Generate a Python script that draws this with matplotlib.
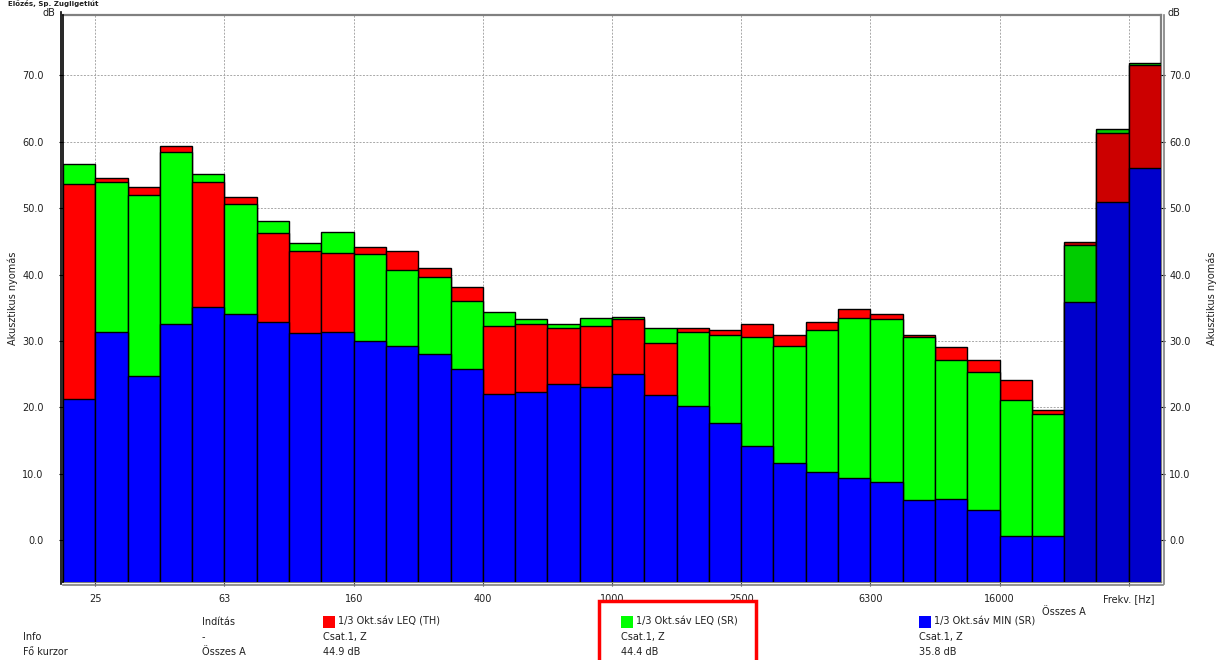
import matplotlib
matplotlib.use("Agg")
import matplotlib.pyplot as plt
from matplotlib.lines import Line2D
from matplotlib.patches import Rectangle

plt.rcParams['font.family'] = ['DejaVu Sans']

bands = ["20", "25", "31.5", "40", "50", "63", "80", "100", "125", "160", "200", "250",
         "315", "400", "500", "630", "800", "1000", "1250", "1600", "2000", "2500",
         "3150", "4000", "5000", "6300", "8000", "10000", "12500", "16000", "20000",
         "Összes A", "Összes C", "Összes Z"]

leq_th = [53.7, 54.6, 53.2, 59.3, 53.9, 51.7, 46.2, 43.5, 43.3, 44.1, 43.5, 41.0,
          38.1, 32.3, 32.5, 31.9, 32.3, 33.3, 29.7, 32.0, 31.6, 32.6, 30.9, 32.8,
          34.8, 34.0, 30.9, 29.1, 27.2, 24.1, 19.6, 44.9, 61.4, 71.5]
leq_sr = [56.6, 53.9, 52.0, 58.4, 55.1, 50.6, 48.0, 44.8, 46.4, 43.1, 40.7, 39.6,
          36.0, 34.4, 33.3, 32.6, 33.4, 33.6, 32.0, 31.3, 30.9, 30.6, 29.3, 31.6,
          33.4, 33.3, 30.6, 27.1, 25.3, 21.1, 19.0, 44.4, 61.9, 71.9]
min_sr = [21.3, 31.3, 24.8, 32.5, 35.1, 34.0, 32.9, 31.2, 31.3, 30.0, 29.2, 28.0,
          25.8, 22.0, 22.3, 23.5, 23.0, 25.1, 21.9, 20.2, 17.6, 14.2, 11.6, 10.2,
          9.3, 8.7, 6.0, 6.2, 4.5, 0.6, 0.6, 35.8, 50.9, 56.0]

tick_labels = ["25", "63", "160", "400", "1000", "2500", "6300", "16000", "Frekv. [Hz]"]
y_ticks = [0, 10, 20, 30, 40, 50, 60, 70]

series_names = ["1/3 Okt.sáv LEQ (TH)", "1/3 Okt.sáv LEQ (SR)", "1/3 Okt.sáv MIN (SR)"]
series_info = ["Csat.1, Z", "Csat.1, Z", "Csat.1, Z"]
cursor_vals = ["44.9 dB", "44.4 dB", "35.8 dB"]

W, H = 1221, 660
fig = plt.figure(figsize=(W / 100, H / 100), dpi=100)
fig.patch.set_facecolor("white")

def fx(px):
    return px / W

def fy(py):
    return 1 - py / H

ax = fig.add_axes([fx(63), fy(582), fx(1161) - fx(63), fy(15) - fy(582)])
ymin, ymax = -6.3, 79.1
ax.set_xlim(0, len(bands))
ax.set_ylim(ymin, ymax)

normal_cols = {"th": "#FF0000", "sr": "#00FF00", "min": "#0000FF"}
total_cols = {"th": "#CC0000", "sr": "#00CC00", "min": "#0000CC"}
n_bands = 31

for i in range(len(bands)):
    cols = normal_cols if i < n_bands else total_cols
    vals = [("th", leq_th[i]), ("sr", leq_sr[i]), ("min", min_sr[i])]
    vals.sort(key=lambda t: -t[1])
    for k, (name, v) in enumerate(vals):
        ax.bar(i, v - (ymin - 5), bottom=ymin - 5, width=1.0, align="edge",
               color=cols[name], edgecolor="black", linewidth=1.0, zorder=3 + k)

# ticks
tick_pos = [bands.index(t) for t in tick_labels[:-1]] + [len(bands) - 1]
ax.set_xticks(tick_pos)
ax.set_xticklabels(tick_labels, fontsize=7)
ax.set_yticks(y_ticks)
ax.set_yticklabels([f"{v:.1f}" for v in y_ticks], fontsize=7)
ax.tick_params(axis="x", length=3, width=0.8, color="#404040", pad=6, labelcolor="#202020")
ax.tick_params(axis="y", length=3, width=0.8, direction="out", pad=11, labelcolor="#202020")

ax.grid(True, color="#A8A8A8", linestyle=(0, (2, 1.5)), linewidth=0.7, zorder=1)
ax.set_axisbelow(True)

ax2 = ax.twinx()
ax2.set_ylim(ymin, ymax)
ax2.set_yticks(y_ticks)
ax2.set_yticklabels([f"{v:.1f}" for v in y_ticks], fontsize=7)
ax2.tick_params(axis="y", length=3, width=0.8, direction="out", pad=3, labelcolor="#202020")
for s in ax2.spines.values():
    s.set_visible(False)

for side in ["top", "right", "bottom"]:
    ax.spines[side].set_color("#808080")
    ax.spines[side].set_linewidth(1.6)
ax.spines["left"].set_color("black")
ax.spines["left"].set_linewidth(1.2)
ax.spines["left"].set_zorder(10)

# double frame lines
fig.add_artist(Line2D([fx(60.5), fx(60.5)], [fy(12), fy(584)], color="black", lw=1.2))
fig.add_artist(Line2D([fx(1163.5), fx(1163.5)], [fy(15), fy(584)], color="#808080", lw=1.2))
fig.add_artist(Line2D([fx(63), fx(1163)], [fy(584.5), fy(584.5)], color="#808080", lw=1.2))

# axis labels
fig.text(fx(55), fy(13), "dB", fontsize=7, ha="right", va="center", color="#202020")
fig.text(fx(1168), fy(13), "dB", fontsize=7, ha="left", va="center", color="#202020")
fig.text(fx(13), fy(298), "Akusztikus nyomás", fontsize=7, rotation=90, ha="center", va="center",
         color="#202020")
fig.text(fx(1212), fy(298), "Akusztikus nyomás", fontsize=7, rotation=90, ha="center", va="center",
         color="#202020")
fig.text(fx(8), fy(3.5), "Előzés, Sp. Zugligetiút", fontsize=5, fontweight="bold", ha="left",
         va="center", color="#202020")

fig.text(fx(1064), fy(612), "Összes A", fontsize=7, ha="center", va="center", color="#202020")

# bottom info table
row_y = [622, 637, 652]
fig.text(fx(23), fy(row_y[1]), "Info", fontsize=7, va="center", color="#202020")
fig.text(fx(23), fy(row_y[2]), "Fő kurzor", fontsize=7, va="center", color="#202020")
fig.text(fx(202), fy(row_y[0]), "Indítás", fontsize=7, va="center", color="#202020")
fig.text(fx(202), fy(row_y[1]), "-", fontsize=7, va="center", color="#202020")
fig.text(fx(202), fy(row_y[2]), "Összes A", fontsize=7, va="center", color="#202020")

col_x = [323, 621, 919]
sq_cols = [normal_cols["th"], normal_cols["sr"], normal_cols["min"]]
for cx, name, info, val, c in zip(col_x, series_names, series_info, cursor_vals, sq_cols):
    fig.add_artist(Rectangle((fx(cx), fy(row_y[0] + 6)), fx(12), fy(row_y[0] - 6) - fy(row_y[0] + 6),
                             facecolor=c, edgecolor="none"))
    fig.text(fx(cx + 15), fy(row_y[0]), name, fontsize=7, va="center", color="#202020")
    fig.text(fx(cx), fy(row_y[1]), info, fontsize=7, va="center", color="#202020")
    fig.text(fx(cx), fy(row_y[2]), val, fontsize=7, va="center", color="#202020")

# highlight box
fig.add_artist(Rectangle((fx(599), fy(662)), fx(157), fy(601) - fy(662), facecolor="none",
                         edgecolor="#FF0000", linewidth=2.5))

fig.savefig("out.png", dpi=100)
